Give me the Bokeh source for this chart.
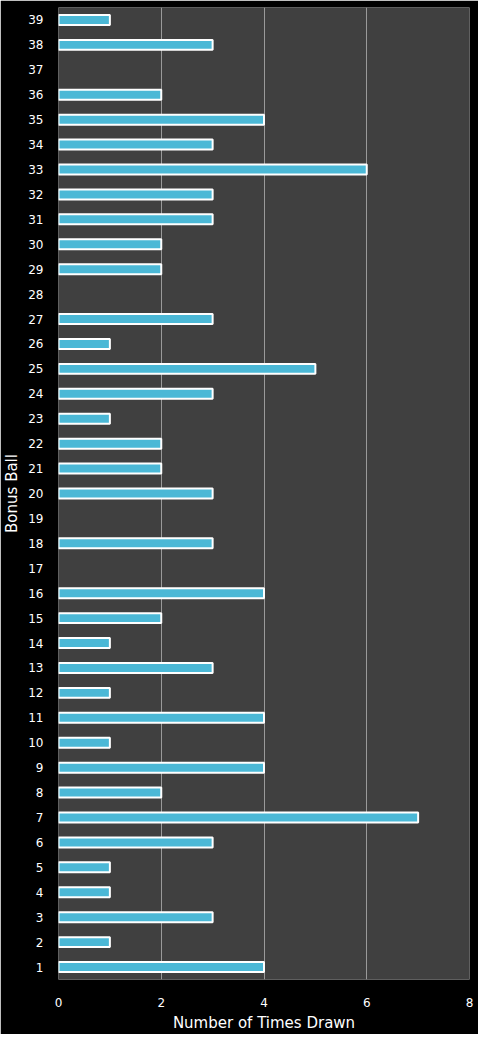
from bokeh.embed import file_html
from bokeh.models import ColumnDataSource, FixedTicker, Range1d
from bokeh.plotting import figure
from bokeh.resources import INLINE

# bonus ball numbers and how often each was drawn
balls = list(range(1, 40))
times_drawn = [4, 1, 3, 1, 1, 3, 7, 2, 4, 1,
               4, 1, 3, 1, 2, 4, 0, 3, 0, 3,
               2, 2, 1, 3, 5, 1, 3, 0, 2, 2,
               3, 3, 6, 3, 4, 2, 0, 3, 1]
x_ticks = [0, 2, 4, 6, 8]

# balls never drawn get no bar at all
drawn = [(b, c) for b, c in zip(balls, times_drawn) if c > 0]
source = ColumnDataSource(data={
    "ball": [b for b, c in drawn],
    "count": [c for b, c in drawn],
})

p = figure(
    width=478,
    height=1034,
    x_range=Range1d(0, 8),
    y_range=Range1d(0.5, 39.5),
    output_backend="svg",
    toolbar_location=None,
    background_fill_color="#404040",
    border_fill_color="#000000",
    outline_line_color=None,
    min_border_left=10,
    min_border_right=9,
    min_border_top=7,
    min_border_bottom=14,
)

# bars with white outline
p.hbar(
    y="ball",
    right="count",
    left=0,
    height=0.4,
    source=source,
    fill_color="#4bb8d6",
    line_color="#ffffff",
    line_width=2,
)

# axes styling
p.xaxis.ticker = FixedTicker(ticks=x_ticks)
p.yaxis.ticker = FixedTicker(ticks=balls)
p.xaxis.axis_label = "Number of Times Drawn"
p.yaxis.axis_label = "Bonus Ball"
for ax in (p.xaxis[0], p.yaxis[0]):
    ax.axis_line_color = None
    ax.major_tick_line_color = None
    ax.minor_tick_line_color = None
    ax.major_label_text_color = "#ffffff"
    ax.major_label_text_font = "DejaVu Sans"
    ax.major_label_text_font_size = "12px"
    ax.axis_label_text_color = "#ffffff"
    ax.axis_label_text_font = "DejaVu Sans"
    ax.axis_label_text_font_style = "normal"
    ax.axis_label_text_font_size = "15px"
p.xaxis.major_label_standoff = 12
p.yaxis.major_label_standoff = 9
p.xaxis.axis_label_standoff = 4
p.yaxis.axis_label_standoff = 4

p.ygrid.grid_line_color = None
p.xgrid.grid_line_color = "#9a9a9a"
p.xgrid.grid_line_width = 1

open("out.html", "w").write(file_html(p, INLINE))
